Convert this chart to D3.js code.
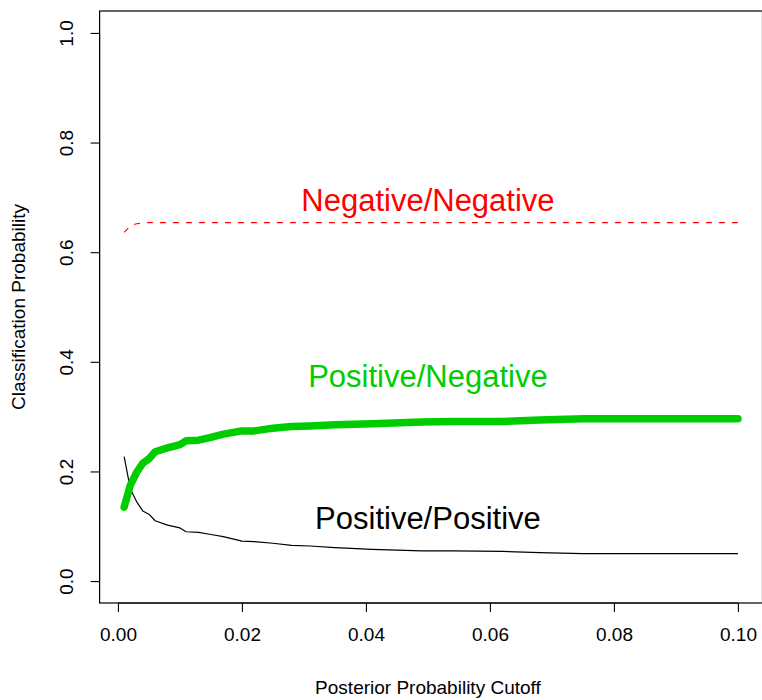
<!DOCTYPE html>
<html>
<head>
<meta charset="utf-8">
<script src="https://cdn.jsdelivr.net/npm/d3@7"></script>
<style>
  body { margin: 0; background: #fff; }
  text { font-family: "Liberation Sans", Arial, sans-serif; }
</style>
</head>
<body>
<svg id="chart" width="762" height="700"></svg>
<script>
// posterior probability cutoffs
const cutoffs = [0.001, 0.002, 0.003, 0.004, 0.005, 0.006, 0.008, 0.010, 0.011, 0.013,
  0.015, 0.017, 0.020, 0.022, 0.025, 0.028, 0.031, 0.035, 0.041, 0.049,
  0.054, 0.062, 0.068, 0.075, 0.100]
// classification probabilities
const negNeg = [0.636, 0.648, 0.652, 0.653, 0.654, 0.654, 0.654, 0.654, 0.654, 0.654,
  0.654, 0.654, 0.654, 0.654, 0.654, 0.654, 0.654, 0.654, 0.654, 0.654,
  0.654, 0.654, 0.654, 0.654, 0.654]
const posNeg = [0.135, 0.175, 0.198, 0.215, 0.223, 0.236, 0.243, 0.249, 0.256, 0.257,
  0.262, 0.268, 0.274, 0.274, 0.279, 0.282, 0.283, 0.285, 0.287, 0.290,
  0.291, 0.291, 0.294, 0.296, 0.296]
const posPos = [0.227, 0.168, 0.145, 0.128, 0.122, 0.110, 0.102, 0.097, 0.090, 0.089,
  0.085, 0.081, 0.073, 0.072, 0.069, 0.065, 0.064, 0.061, 0.058, 0.055,
  0.055, 0.054, 0.052, 0.050, 0.050]

const xTicks = [0, 0.02, 0.04, 0.06, 0.08, 0.10]
const yTicks = [0, 0.2, 0.4, 0.6, 0.8, 1.0]

const labels = [
  {text: 'Negative/Negative', x: 0.05, y: 0.695, color: '#ff0000'},
  {text: 'Positive/Negative', x: 0.05, y: 0.375, color: '#00cd00'},
  {text: 'Positive/Positive', x: 0.05, y: 0.115, color: '#000000'}
]

const svg = d3.select('#chart')

// R style 4% padding around the data range
const xPad = (0.1 - 0.001) * 0.04
const x = d3.scaleLinear().domain([0.001 - xPad, 0.1 + xPad]).range([99.6, 762.5])
const y = d3.scaleLinear().domain([-0.04, 1.04]).range([603, 11])

const line = (vals) => d3.line()
    .x((d, i) => x(cutoffs[i]))
    .y((d) => y(d))(vals)

svg.append('path')
    .attr('d', line(negNeg))
    .attr('fill', 'none')
    .attr('stroke', '#ff0000')
    .attr('stroke-width', 1.1)
    .attr('stroke-dasharray', '6,7')

svg.append('path')
    .attr('d', line(posPos))
    .attr('fill', 'none')
    .attr('stroke', '#000')
    .attr('stroke-width', 1.2)
    .attr('stroke-linejoin', 'round')

svg.append('path')
    .attr('d', line(posNeg))
    .attr('fill', 'none')
    .attr('stroke', '#00cd00')
    .attr('stroke-width', 7.5)
    .attr('stroke-linecap', 'round')
    .attr('stroke-linejoin', 'round')

// box
svg.append('rect')
    .attr('x', x.range()[0])
    .attr('y', y.range()[1])
    .attr('width', x.range()[1] - x.range()[0])
    .attr('height', y.range()[0] - y.range()[1])
    .attr('fill', 'none')
    .attr('stroke', '#000')
    .attr('stroke-width', 1.2)

// axes
const xAxis = svg.append('g')
    .attr('transform', `translate(0,${y.range()[0]})`)
    .call(d3.axisBottom(x).tickValues(xTicks).tickSize(9).tickPadding(16)
      .tickFormat(d3.format('.2f')))
xAxis.select('.domain')
    .attr('d', `M${x(0)},0H${x(0.1)}`)
xAxis.selectAll('text')
    .attr('font-size', 19)
    .attr('font-family', '"Liberation Sans", Arial, sans-serif')
    .attr('fill', '#000')

const yAxis = svg.append('g')
    .attr('transform', `translate(${x.range()[0]},0)`)
    .call(d3.axisLeft(y).tickValues(yTicks).tickSize(9).tickFormat(d3.format('.1f')))
yAxis.select('.domain')
    .attr('d', `M0,${y(0)}V${y(1)}`)
yAxis.selectAll('text')
    .attr('font-size', 19)
    .attr('font-family', '"Liberation Sans", Arial, sans-serif')
    .attr('fill', '#000')
    .attr('text-anchor', 'middle')
    .attr('dy', 0)
    .attr('x', 0)
    .attr('transform', 'translate(-27,0) rotate(-90)')
svg.selectAll('.tick line').attr('stroke-width', 1.1)

// axis titles
svg.append('text')
    .attr('x', (x(0) + x(0.1)) / 2)
    .attr('y', 694)
    .attr('text-anchor', 'middle')
    .attr('font-size', 19)
    .text('Posterior Probability Cutoff')

svg.append('text')
    .attr('transform', `translate(25,${(y(0) + y(1)) / 2}) rotate(-90)`)
    .attr('text-anchor', 'middle')
    .attr('font-size', 19)
    .text('Classification Probability')

// curve labels
svg.selectAll('text.curveLabel')
    .data(labels)
    .enter()
    .append('text')
    .attr('class', 'curveLabel')
    .attr('x', (d) => x(d.x))
    .attr('y', (d) => y(d.y))
    .attr('dy', '0.36em')
    .attr('text-anchor', 'middle')
    .attr('font-size', 31)
    .attr('fill', (d) => d.color)
    .text((d) => d.text)
</script>
</body>
</html>
